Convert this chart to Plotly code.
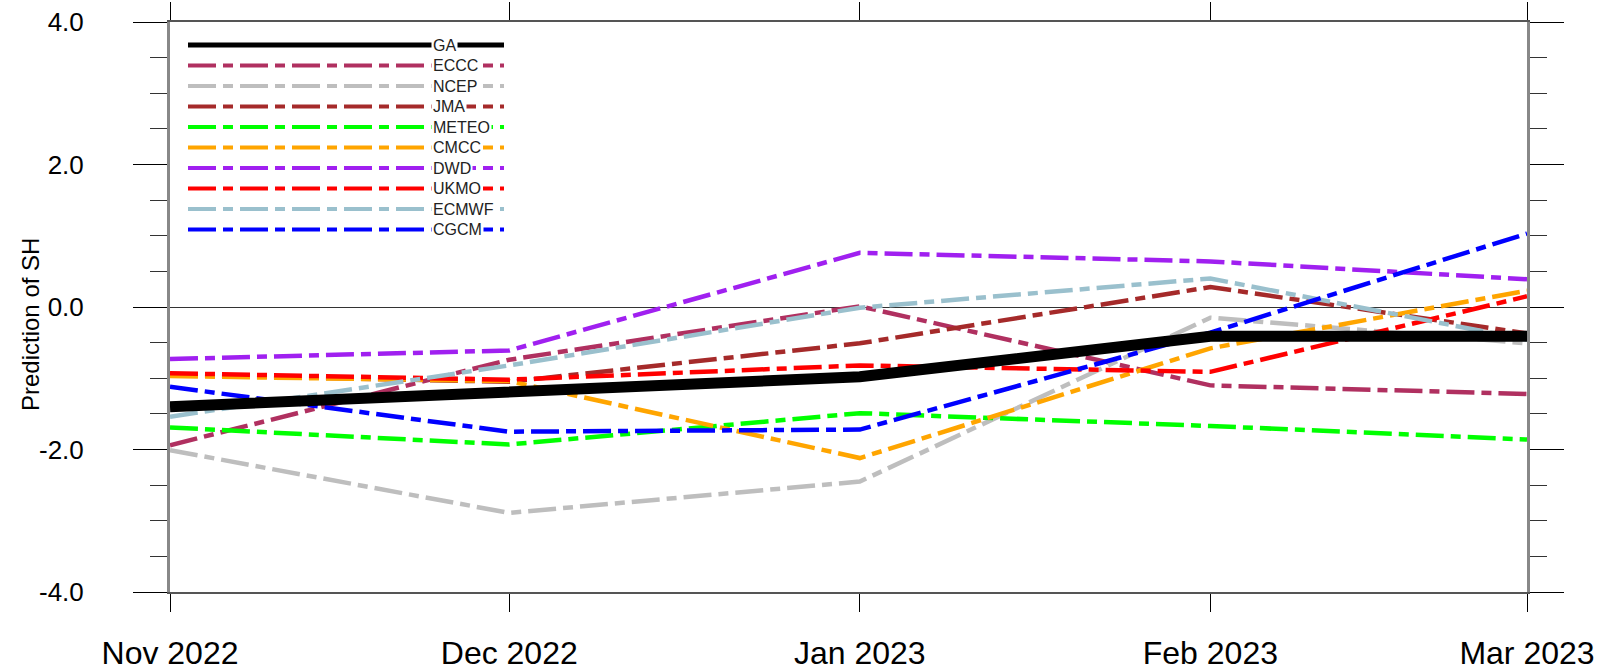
import plotly.graph_objects as go

# ---------------- data ----------------
dates = ["2022-11-01", "2022-12-01", "2023-01-01", "2023-02-01", "2023-03-01"]
date_labels = ["Nov 2022", "Dec 2022", "Jan 2023", "Feb 2023", "Mar 2023"]

GA    = [-1.40, -1.20, -0.98, -0.41, -0.41]
ECCC  = [-1.94, -0.74,  0.01, -1.10, -1.22]
NCEP  = [-2.01, -2.89, -2.45, -0.15, -0.51]
JMA   = [-0.95, -1.05, -0.51,  0.28, -0.37]
METEO = [-1.69, -1.93, -1.49, -1.67, -1.86]
CMCC  = [-0.97, -1.04, -2.12, -0.58,  0.23]
DWD   = [-0.73, -0.61,  0.76,  0.64,  0.39]
UKMO  = [-0.93, -1.02, -0.82, -0.91,  0.15]
ECMWF = [-1.54, -0.82, -0.01,  0.40, -0.46]
CGCM  = [-1.12, -1.75, -1.72, -0.36,  1.03]

series_names = ["GA", "ECCC", "NCEP", "JMA", "METEO", "CMCC", "DWD", "UKMO", "ECMWF", "CGCM"]
series_vals = [GA, ECCC, NCEP, JMA, METEO, CMCC, DWD, UKMO, ECMWF, CGCM]
series_colors = ["#000000", "#B03060", "#BEBEBE", "#A52A2A", "#00FF00",
                 "#FFA500", "#A020F0", "#FF0000", "#9AC0CD", "#0000FF"]

ytick_vals = [-4, -2, 0, 2, 4]
ytick_text = ["-4.0", "-2.0", "0.0", "2.0", "4.0"]

# ---------------- figure ----------------
W, H = 1598, 672
ML, MR, MT, MB = 170, 71, 22, 80
PW, PH = W - ML - MR, H - MT - MB

DASH = "28px,7px,10px,7px"
FONT = "Liberation Sans, Arial, Helvetica, sans-serif"

fig = go.Figure()

# models first, GA last (on top)
for name, vals, col in list(zip(series_names, series_vals, series_colors))[1:]:
    fig.add_trace(go.Scatter(x=dates, y=vals, mode="lines", name=name,
                             line=dict(color=col, width=4.5, dash=DASH),
                             showlegend=False))
fig.add_trace(go.Scatter(x=dates, y=GA, mode="lines", name="GA",
                         line=dict(color="#000000", width=11),
                         showlegend=False))

# ---------------- custom NCL-style legend ----------------
def px2x(px):
    return (px - ML) / PW

def py2y(py):
    return (H - MB - py) / PH

shapes = []
annotations = []
for i, (name, col) in enumerate(zip(series_names, series_colors)):
    yy = py2y(45 + i * 20.5)
    shapes.append(dict(type="line", xref="paper", yref="paper",
                       x0=px2x(188), x1=px2x(504), y0=yy, y1=yy,
                       line=dict(color=col, width=5 if i == 0 else 4,
                                 dash="solid" if i == 0 else DASH),
                       layer="above"))
    annotations.append(dict(xref="paper", yref="paper", x=px2x(431), y=yy,
                            xanchor="left", yanchor="middle", text=name,
                            showarrow=False, bgcolor="white", borderpad=1,
                            font=dict(family=FONT, size=16, color="#222")))

# y-axis title
annotations.append(dict(xref="paper", yref="paper", x=px2x(30), y=py2y(325),
                        xanchor="center", yanchor="middle", textangle=-90,
                        text="Prediction of SH", showarrow=False,
                        font=dict(family=FONT, size=24, color="#000")))

fig.update_layout(
    width=W, height=H,
    margin=dict(l=ML, r=MR, t=MT, b=MB, pad=0, autoexpand=False),
    paper_bgcolor="white", plot_bgcolor="white",
    font=dict(family=FONT, color="#000"),
    shapes=shapes, annotations=annotations,
    showlegend=False,
)

fig.update_xaxes(
    type="date", range=[dates[0], dates[-1]],
    tickvals=dates, ticktext=date_labels, automargin=False,
    ticks="outside", ticklen=18, tickwidth=1, tickcolor="#000",
    mirror="allticks", showline=True, linecolor="#555", linewidth=2,
    showgrid=False, zeroline=False,
    tickfont=dict(family=FONT, size=32, color="#000"),
    ticklabelstandoff=14,
)
fig.update_yaxes(
    range=[-4, 4], tickvals=ytick_vals, ticktext=ytick_text, automargin=False,
    ticks="outside", ticklen=34, tickwidth=1, tickcolor="#000",
    minor=dict(dtick=0.5, ticks="outside", ticklen=17, tickwidth=1,
               tickcolor="#333", showgrid=False),
    mirror="allticks", showline=True, linecolor="#888", linewidth=3,
    showgrid=False, zeroline=True, zerolinecolor="#333", zerolinewidth=1,
    tickfont=dict(family=FONT, size=26, color="#000"),
    ticklabelstandoff=44,
)

fig.write_html("out.html", config={"displayModeBar": False},
               post_script="document.body.style.margin='0';document.body.style.overflow='hidden';")
